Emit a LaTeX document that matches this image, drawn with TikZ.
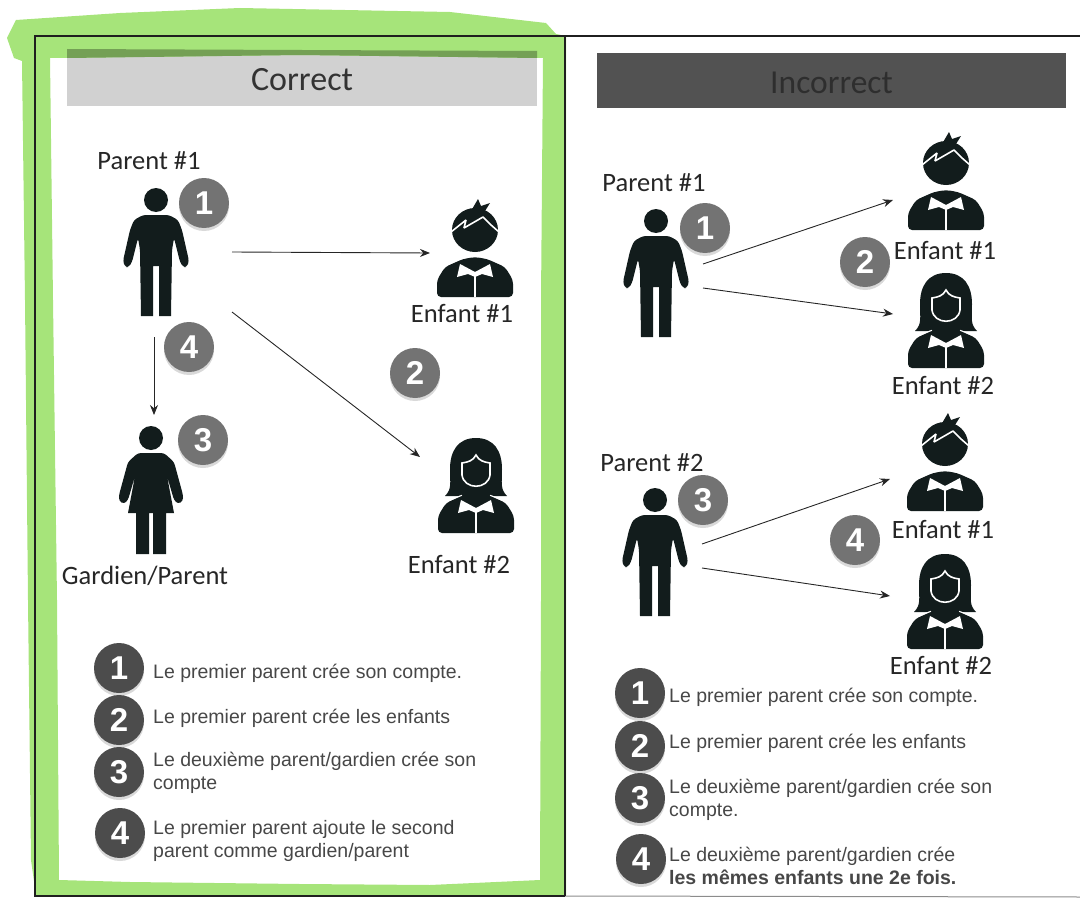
\documentclass[tikz,border=0pt]{standalone}
\usepackage{fontspec}
\setmainfont{Carlito}
\newfontfamily\legendfont{Liberation Sans}
\usetikzlibrary{shadows,arrows.meta}
\definecolor{surligne}{RGB}{166,228,122}
\definecolor{encre}{RGB}{18,28,28}
\tikzstyle{titreA}=[minimum width=470,minimum height=56,inner sep=0,
fill=black!18,text=black!80,font=\fontsize{34}{36}\selectfont]
\tikzstyle{titreB}=[minimum width=469,minimum height=55,inner sep=0,
fill=black!68,text=black!82,font=\fontsize{33.5}{36}\selectfont]
\tikzstyle{etiquette}=[inner sep=0,text=black!85,font=\fontsize{26.5}{28}\selectfont]
\tikzstyle{pastille}=[circle,minimum size=50,inner sep=0,fill=black!55,text=white,
font=\legendfont\bfseries\fontsize{33}{34}\selectfont,
drop shadow={shadow xshift=0pt,shadow yshift=-3pt,opacity=.3}]
\tikzstyle{pastilleL}=[pastille,fill=black!70]
\tikzstyle{legende}=[anchor=west,inner sep=0,text=black!72,align=left,
font=\legendfont\fontsize{19.5}{23}\selectfont]
\tikzstyle{fleche}=[-{Stealth[length=10,width=8]},black!85,line width=0.9]
\tikzset{
  homme/.pic={
    \fill[encre] (0,0) circle (12);
    \fill[encre] [rounded corners=3] (0,15) -- (13,15) -- (22,20) -- (26,30) -- (33,61) -- (31,67)
      -- (27,67) -- (24,62) -- (18,38) -- (16,50) [sharp corners] -- (15,116) -- (3,116) -- (3,66) -- (-3,66)
      -- (-3,116) -- (-15,116) [rounded corners=3] -- (-16,50) -- (-18,38) -- (-24,62) -- (-27,67) -- (-31,67)
      -- (-33,61) -- (-26,30) -- (-22,20) -- (-13,15) -- cycle;
  },
  femme/.pic={
    \fill[encre] (0,0) circle (12);
    \fill[encre] [rounded corners=3] (0,15) -- (13,15) -- (23,24) -- (32,57) -- (32,63) -- (27,66)
      -- (23,62) -- (16,38) [sharp corners] -- (23,75) -- (15,75) -- (15,116) -- (2,116) -- (2,75) -- (-2,75)
      -- (-2,116) -- (-15,116) -- (-15,75) -- (-23,75) [rounded corners=3] -- (-16,38) -- (-23,62) -- (-27,66)
      -- (-32,63) -- (-32,57) -- (-23,24) -- (-13,15) -- cycle;
  },
  tronc/.pic={
    \fill[encre,rounded corners=4] (-38,0) -- (-38,-17) -- (-30,-30) -- (-12,-38) -- (0,-40)
      -- (12,-38) -- (30,-30) -- (38,-17) -- (38,0) -- cycle;
    \fill[white] (0,-25) -- (-15,-33) -- (-18,-20) -- (-7,-23) -- (0,-20) -- (7,-23) -- (18,-20)
      -- (15,-33) -- cycle;
    \draw[white,line width=1.5] (0,-22) -- (0,0);
  },
  garcon/.pic={
    \fill[encre] (0,-67) ellipse (23 and 22);
    \fill[encre] (-4,-86) -- (3,-98) -- (6,-91) -- (15,-94) -- (10,-86) -- (16,-80) -- (4,-82) -- cycle;
    \draw[white,line width=1.6,line join=bevel] (-24,-65) -- (-9,-77) -- (-11,-69) -- (8,-80) -- (16,-72) -- (24,-65);
    \pic {tronc};
  },
  fille/.pic={
    \fill[encre] (0,-95) .. controls (18,-95) and (26,-82) .. (26,-64) .. controls (26,-50) and (24,-44) .. (31,-37)
      -- (14,-37) -- (-14,-37) -- (-31,-37) .. controls (-24,-44) and (-26,-50) .. (-26,-64) .. controls (-26,-82) and (-18,-95) .. (0,-95) -- cycle;
    \fill[encre,draw=white,line width=1.6] (0,-78) .. controls (3,-72) and (8,-71) .. (14,-70)
      -- (14,-58) .. controls (12,-43) and (-12,-43) .. (-14,-58) -- (-14,-70) .. controls (-8,-71) and (-3,-72) .. (0,-78) -- cycle;
    \draw[white,line width=1.4] (-35,-30) -- (-14,-37.5);
    \draw[white,line width=1.4] (35,-30) -- (14,-37.5);
    \pic {tronc};
  }
}
\begin{document}
\begin{tikzpicture}[x=1pt,y=-1pt]
\useasboundingbox (0,0) rectangle (1080,899);
\node[titreA,text depth=0pt,text height=26,yshift=-1] (correct) at (302,77) {Correct};
\node[titreB,text depth=0pt,text height=26,yshift=-1] (incorrect) at (831.5,80) {Incorrect};
\fill[surligne,even odd rule] (7,38) -- (16,20) -- (120,13) -- (240,8) -- (450,12) -- (546,23)
  -- (556,34) -- (566,36) -- (566,300) -- (566,600) -- (566,895) -- (300,896) -- (36,895)
  -- (31,860) -- (28,600) -- (25,300) -- (22,61) -- (14,58) -- cycle
  (50,58) -- (300,55) -- (543,58) -- (541,300) -- (541,600) -- (540,880) -- (430,885)
  -- (300,884) -- (130,882) -- (59,880) -- (57,600) -- (53,300) -- cycle;
\fill[black!30!surligne] (67,49) -- (537,51) -- (537,58) -- (300,55) -- (67,58) -- cycle;
\draw[black!88,line width=1.6] (1080,36) -- (35,36) -- (35,896) -- (565,896);
\draw[black!45,line width=1] (565,896) -- (1080,897);
\draw[black!88,line width=1.3] (565,36) -- (565,896);

\node[etiquette] (parentA) at (149,161) {Parent \#1};
\pic at (156,200) {homme};
\node[pastille] (a1) at (204,203) {1};
\pic at (475,297) {garcon};
\node[etiquette] (enfantA) at (462,314) {Enfant \#1};
\pic at (476,533) {fille};
\node[etiquette] (enfantB) at (459,565) {Enfant \#2};
\node[pastille] (a2) at (415,373) {2};
\node[pastille] (a4) at (189,347) {4};
\pic at (151,438) {femme};
\node[pastille] (a3) at (203,440) {3};
\node[etiquette] (gardien) at (145,576) {Gardien/Parent};

\coordinate (p1) at (232,252);
\coordinate (e1) at (430,253);
\coordinate (p2) at (232,312);
\coordinate (e2) at (420,457);
\coordinate (p3) at (154,337);
\coordinate (g1) at (154,415);
\draw[fleche] (p1)--(e1);
\draw[fleche] (p2)--(e2);
\draw[fleche] (p3)--(g1);

\node[pastilleL] (l1) at (119,668) {1};
\node[pastilleL] (l2) at (119,720) {2};
\node[pastilleL] (l3) at (119,772) {3};
\node[pastilleL] (l4) at (120,833) {4};
\node[legende] (t1) at (153,673) {Le premier parent crée son compte.};
\node[legende] (t2) at (153,718) {Le premier parent crée les enfants};
\node[legende] (t3) at (153,773) {Le deuxième parent/gardien crée son\\compte};
\node[legende] (t4) at (153,841) {Le premier parent ajoute le second\\parent comme gardien/parent};

\node[etiquette] (parentC) at (654,183) {Parent \#1};
\pic at (656,221) {homme};
\node[pastille] (b1) at (705,228) {1};
\pic at (946,230) {garcon};
\node[etiquette] (enfantC) at (945,251) {Enfant \#1};
\pic at (946,368) {fille};
\node[etiquette] (enfantD) at (943,386) {Enfant \#2};
\node[pastille] (b2) at (865,262) {2};
\coordinate (p4) at (703,264);
\coordinate (e3) at (893,200);
\coordinate (p5) at (703,288);
\coordinate (e4) at (893,314);
\draw[fleche] (p4)--(e3);
\draw[fleche] (p5)--(e4);

\node[etiquette] (parentD) at (652,463) {Parent \#2};
\pic at (655,500) {homme};
\node[pastille] (b3) at (703,500) {3};
\pic at (945,511) {garcon};
\node[etiquette] (enfantE) at (943,530) {Enfant \#1};
\pic at (945,649) {fille};
\node[etiquette] (enfantF) at (941,666) {Enfant \#2};
\node[pastille] (b4) at (855,540) {4};
\coordinate (p6) at (702,544);
\coordinate (e5) at (890,479);
\coordinate (p7) at (702,568);
\coordinate (e6) at (890,596);
\draw[fleche] (p6)--(e5);
\draw[fleche] (p7)--(e6);

\node[pastilleL] (m1) at (640,693) {1};
\node[pastilleL] (m2) at (640,746) {2};
\node[pastilleL] (m3) at (640,798) {3};
\node[pastilleL] (m4) at (641,859) {4};
\node[legende] (u1) at (669,697) {Le premier parent crée son compte.};
\node[legende] (u2) at (669,743) {Le premier parent crée les enfants};
\node[legende] (u3) at (669,800) {Le deuxième parent/gardien crée son\\compte.};
\node[legende] (u4) at (669,866) {Le deuxième parent/gardien crée\\\textbf{les mêmes enfants une 2e fois.}};
\end{tikzpicture}
\end{document}
